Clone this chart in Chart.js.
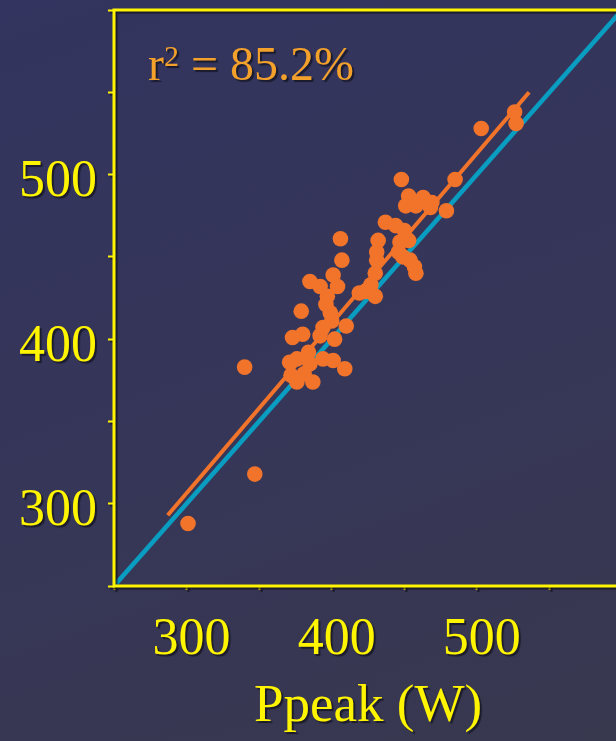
<!DOCTYPE html>
<html>
<head>
<meta charset="utf-8">
<script src="https://cdn.jsdelivr.net/npm/chart.js@4.4.1/dist/chart.umd.min.js"></script>
<style>
  html, body {
    margin: 0; padding: 0; overflow: hidden; width: 616px; height: 741px;
    background: linear-gradient(160deg, #33345f 0%, #363658 55%, #38384f 100%);
  }
  #wrap { width: 624px; height: 741px; }
</style>
</head>
<body>
<div id="wrap"><canvas id="chart" width="624" height="741"></canvas></div>
<script>
const peakX = [301, 347, 340, 371, 376, 372, 376, 381, 387, 384, 385, 394, 401, 409,
  373, 380, 392, 402, 394, 410, 399, 400, 379, 396, 397, 392, 385, 401, 404, 406, 407,
  419, 423, 430, 427, 430, 431, 431, 432, 437, 444, 450, 453, 447, 446, 449, 454, 457, 458,
  448, 453, 463, 469, 451, 458, 468, 479, 485, 503, 526, 527];
const peakY = [288, 318, 383, 386, 388, 378, 374, 379, 374, 392, 385, 388, 387, 382,
  401, 403, 402, 400, 407, 408, 416, 411, 417, 421, 426, 432, 435, 439, 432, 461, 448,
  428, 429, 426, 433, 440, 448, 453, 460, 471, 469, 466, 460, 459, 453, 450, 448, 444, 440,
  497, 487, 486, 483, 481, 481, 480, 478, 497, 528, 538, 531];

// regression line ends and line of identity
const fitX = [287, 536];
const fitY = [293, 550];
const identityX = [250, 600];
const identityY = [250, 600];

const xTickLabels = [300, 400, 500];
const yTickLabels = [300, 400, 500];
const r2Value = '85.2%';

const yellow = '#FFF500';
const orange = '#F1742A';
const blue = '#0A9DC2';
const serif = 'Liberation Serif';

const toPoints = (xs, ys) => xs.map((x, i) => ({ x, y: ys[i] }));

function dropShadow(ctx) {
  ctx.shadowColor = 'rgba(15, 15, 25, 0.7)';
  ctx.shadowOffsetX = 2;
  ctx.shadowOffsetY = 2;
  ctx.shadowBlur = 1;
}

// keep the plot box where the picture has it, whatever the label sizes
function noPad(s) {
  s.paddingTop = 0; s.paddingBottom = 0; s.paddingLeft = 0; s.paddingRight = 0;
}

const decor = {
  id: 'decor',
  beforeDraw(chart) {
    dropShadow(chart.ctx); // axes text gets the dark shadow
  },
  beforeDatasetsDraw(chart) {
    const c = chart.ctx;
    c.shadowColor = 'transparent';
    c.shadowOffsetX = 0;
    c.shadowOffsetY = 0;
    c.shadowBlur = 0;
  },
  afterDraw(chart) {
    const { ctx, chartArea: a } = chart;
    ctx.save();
    dropShadow(ctx);
    ctx.strokeStyle = yellow;
    ctx.lineWidth = 3;
    ctx.strokeRect(a.left, a.top, a.right - a.left, a.bottom - a.top);

    // r² = 85.2%
    ctx.fillStyle = '#F4A12B';
    ctx.textAlign = 'left';
    ctx.textBaseline = 'alphabetic';
    let x = a.left + 34, y = a.top + 70;
    ctx.font = `48px "${serif}"`;
    ctx.fillText('r', x, y);
    x += ctx.measureText('r').width;
    ctx.font = `30px "${serif}"`;
    ctx.fillText('2', x, y - 14);
    x += ctx.measureText('2').width;
    ctx.font = `48px "${serif}"`;
    ctx.fillText(' = ' + r2Value, x, y);
    ctx.restore();
  }
};

new Chart(document.getElementById('chart'), {
  type: 'scatter',
  data: {
    datasets: [
      {
        label: 'Ppeak',
        data: toPoints(peakX, peakY),
        backgroundColor: orange,
        borderWidth: 0,
        pointRadius: 7.8,
        pointHoverRadius: 7.8,
        order: 0
      },
      {
        label: 'Regression',
        data: toPoints(fitX, fitY),
        showLine: true,
        borderColor: orange,
        borderWidth: 4,
        pointRadius: 0,
        order: 1
      },
      {
        label: 'Identity',
        data: toPoints(identityX, identityY),
        showLine: true,
        borderColor: blue,
        borderWidth: 4.5,
        pointRadius: 0,
        order: 2
      }
    ]
  },
  options: {
    responsive: false,
    animation: false,
    layout: { autoPadding: false, padding: { top: 10, right: 2, left: 0, bottom: 0 } },
    plugins: { legend: { display: false }, tooltip: { enabled: false } },
    scales: {
      x: {
        type: 'linear',
        min: 250,
        max: 600,
        afterFit: s => { s.height = 155; noPad(s); },
        border: { display: false },
        grid: { drawOnChartArea: false, tickLength: 4, tickColor: yellow, tickWidth: 2 },
        ticks: {
          stepSize: 50, autoSkip: false, maxRotation: 0, padding: 19, labelOffset: 5,
          color: yellow, font: { family: serif, size: 52 },
          callback: v => xTickLabels.includes(v) ? String(v) : ''
        },
        title: {
          display: true, text: 'Ppeak (W)', color: yellow,
          font: { family: serif, size: 53 }, padding: { top: 0, bottom: 2 }
        }
      },
      y: {
        type: 'linear',
        min: 250,
        max: 600,
        afterFit: s => { s.width = 114; noPad(s); },
        border: { display: false },
        grid: { drawOnChartArea: false, tickLength: 6, tickColor: yellow, tickWidth: 2 },
        ticks: {
          stepSize: 50, autoSkip: false, padding: 11, labelOffset: 8,
          color: yellow, font: { family: serif, size: 52 },
          callback: v => yTickLabels.includes(v) ? String(v) : ''
        }
      }
    }
  },
  plugins: [decor]
});
</script>
</body>
</html>
